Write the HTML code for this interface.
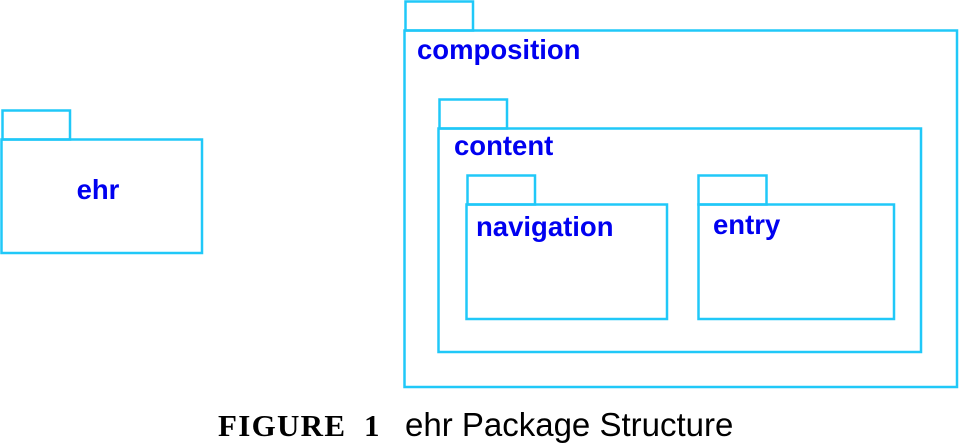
<!DOCTYPE html>
<html><head><style>html,body{margin:0;padding:0;background:#fff;}svg{display:block}</style></head>
<body>
<svg width="959" height="445" xmlns="http://www.w3.org/2000/svg">
<g fill="none" stroke="#20c8f8" stroke-width="2.5">
<rect x="2.5" y="110.5" width="67.5" height="29"/>
<rect x="1.5" y="139.5" width="200.5" height="113.5"/>
<rect x="405.5" y="1.5" width="67.5" height="29"/>
<rect x="404.5" y="30.5" width="552.5" height="356.5"/>
<rect x="439.5" y="99.5" width="67.5" height="29"/>
<rect x="438.5" y="128.5" width="482.5" height="223.5"/>
<rect x="467.5" y="175.5" width="67.5" height="29"/>
<rect x="466.5" y="204.5" width="200.5" height="114.5"/>
<rect x="698.5" y="175.5" width="68" height="29"/>
<rect x="698.5" y="204.5" width="195.5" height="114.5"/>
</g>
<g fill="#0000f0" font-family="Liberation Sans, sans-serif" font-weight="bold" font-size="27.5">
<text x="98" y="199" text-anchor="middle">ehr</text>
<text x="417" y="59">composition</text>
<text x="454" y="155">content</text>
<text x="476" y="236">navigation</text>
<text x="713" y="234">entry</text>
</g>
<text x="218" y="436" font-family="Liberation Serif, serif" font-weight="bold" font-size="31" textLength="127" lengthAdjust="spacing" fill="#000">FIGURE</text>
<text x="364" y="436" font-family="Liberation Serif, serif" font-weight="bold" font-size="31" fill="#000">1</text>
<text x="405" y="436" font-family="Liberation Sans, sans-serif" font-size="33" fill="#000">ehr Package Structure</text>
</svg>
</body></html>
